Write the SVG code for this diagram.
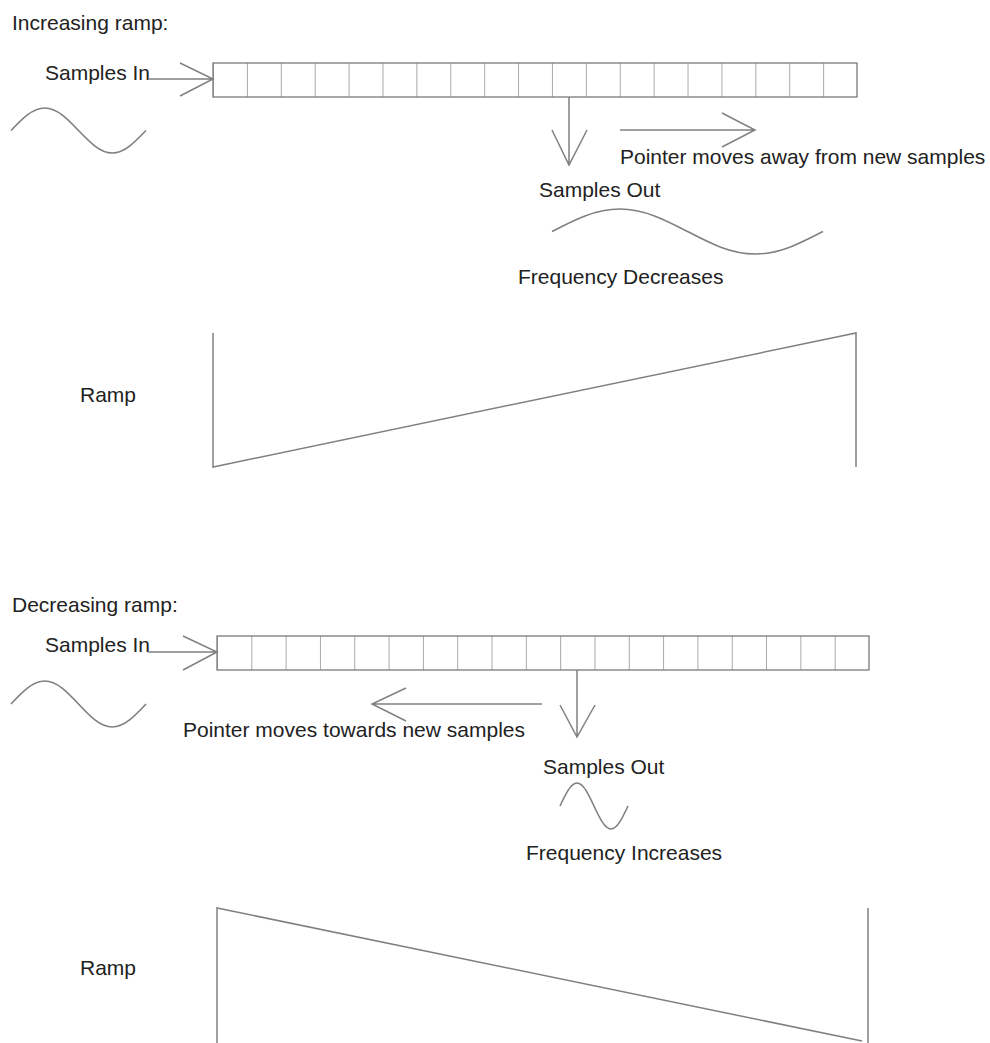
<svg xmlns="http://www.w3.org/2000/svg" width="990" height="1043" viewBox="0 0 990 1043">
<style>
text{font-family:"Liberation Sans",Arial,sans-serif;font-size:21px;fill:#222}
.ln{fill:none;stroke:#808080;stroke-width:1.5}
.box{fill:#fff;stroke:#7a7a7a;stroke-width:1.3}
.wv{fill:none;stroke:#808080;stroke-width:1.6}
</style>
<rect width="990" height="1043" fill="#fff"/>
<defs>
<pattern id="cellsTop" x="213" y="63" width="33.895" height="34" patternUnits="userSpaceOnUse"><line x1="0" y1="0" x2="0" y2="34" stroke="#7a7a7a" stroke-width="1.3"/></pattern>
<pattern id="cellsBot" x="217" y="636" width="34.316" height="34" patternUnits="userSpaceOnUse"><line x1="0" y1="0" x2="0" y2="34" stroke="#7a7a7a" stroke-width="1.3"/></pattern>
</defs>

<g id="top-title"><text x="12" y="30">Increasing ramp:</text></g>
<g id="top-samples-in"><text x="45" y="80">Samples In</text></g>
<g id="top-buffer">
<rect class="box" x="213" y="63" width="644" height="34"/>
<rect x="213" y="63" width="644" height="34" fill="url(#cellsTop)"/>
</g>
<g id="top-input-wave"><path class="wv" d="M11,130.5 C22,119 32.5,108 44.75,108 S67.5,119 78.5,130.5 S100,153 112.25,153 S135,142 146,130.5"/></g>
<g id="top-pointer-label"><text x="620" y="164">Pointer moves away from new samples</text></g>
<g id="top-samples-out"><text x="539" y="197">Samples Out</text></g>
<g id="top-output-wave"><path class="wv" d="M552,231.5 C574.1,220 595.2,209 619.75,209 S665.4,220 687.5,231.5 S730.5,254 755.25,254 S800.9,243 823,231.5"/></g>
<g id="top-freq"><text x="518" y="284">Frequency Decreases</text></g>
<g id="top-ramp-label"><text x="80" y="402">Ramp</text></g>
<g id="top-ramp"><path class="ln" d="M213,333 V467 L856,333 V467"/></g>

<g id="bot-title"><text x="12" y="612">Decreasing ramp:</text></g>
<g id="bot-samples-in"><text x="45" y="652">Samples In</text></g>
<g id="bot-buffer">
<rect class="box" x="217" y="636" width="652" height="34"/>
<rect x="217" y="636" width="652" height="34" fill="url(#cellsBot)"/>
</g>
<g id="bot-input-wave"><path class="wv" d="M11,704 C22,692.2 32.5,681 44.75,681 S67.5,692.2 78.5,704 S100,727 112.25,727 S135,715.8 146,704"/></g>
<g id="bot-pointer-label"><text x="183" y="737">Pointer moves towards new samples</text></g>
<g id="bot-samples-out"><text x="543" y="774">Samples Out</text></g>
<g id="bot-output-wave"><path class="wv" d="M560,806 C565.5,794.2 570.8,783 577,783 S588.5,794.2 594,806 S604.8,829 611,829 S622.5,817.8 628,806"/></g>
<g id="bot-freq"><text x="526" y="860">Frequency Increases</text></g>
<g id="bot-ramp-label"><text x="80" y="975">Ramp</text></g>
<g id="bot-ramp"><path class="ln" d="M217,1043 V908 L862,1041 M868,908 V1043"/></g>

<g id="connectors" class="ln">
<path d="M148,79 H213 M180,63 L213,79 L180,96"/>
<path d="M569,97 V165 M552,130 L569,165 L587,130"/>
<path d="M620,130 H755 M722,113 L755,130 L722,147"/>
<path d="M148,652 H217 M183,636 L217,652 L183,670"/>
<path d="M577,670 V737 M560,705 L577,737 L595,705"/>
<path d="M542,704 H372 M406,688 L372,704 L406,721"/>
</g>
</svg>
